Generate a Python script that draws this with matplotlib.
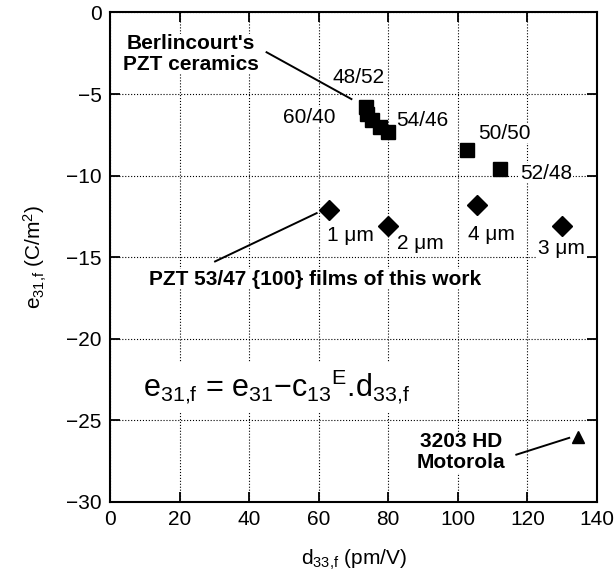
import numpy as np
import matplotlib.pyplot as plt

plt.rcParams['font.family'] = ['Liberation Sans', 'DejaVu Sans']
plt.rcParams['mathtext.fontset'] = 'custom'
plt.rcParams['mathtext.rm'] = 'Liberation Sans'
plt.rcParams['mathtext.it'] = 'Liberation Sans'
plt.rcParams['font.size'] = 15

# Berlincourt's PZT ceramics
ceram_d33 = [73.5, 74.0, 75.3, 77.7, 80.0, 102.5, 112.0]
ceram_e31 = [-5.8, -6.2, -6.6, -7.0, -7.35, -8.4, -9.6]
ceram_labels = ['48/52', '60/40', '54/46', '50/50', '52/48']
ceram_label_xy = [(71.4, -4.0), (57.3, -6.43), (89.8, -6.65), (113.4, -7.39), (125.3, -9.86)]

# PZT 53/47 {100} films
film_d33 = [62.9, 80.0, 105.5, 129.9]
film_e31 = [-12.1, -13.1, -11.8, -13.1]
film_labels = ['1 μm', '2 μm', '4 μm', '3 μm']
film_label_xy = [(69.0, -13.7), (89.1, -14.14), (109.7, -13.6), (129.8, -14.47)]

# 3203 HD Motorola
moto_d33 = [134.5]
moto_e31 = [-26.0]

fig = plt.figure(figsize=(6.16, 5.78), dpi=100)
ax = fig.add_axes([0.1786, 0.1315, 0.7906, 0.847])

ax.plot(ceram_d33, ceram_e31, 's', color='black', ms=10, zorder=5)
ax.plot(film_d33, film_e31, 'D', color='black', ms=10, zorder=5)
ax.plot(moto_d33, moto_e31, '^', color='black', ms=9, zorder=5)

box = dict(facecolor='white', edgecolor='none', pad=0.5)
for lab, (x, y) in zip(ceram_labels, ceram_label_xy):
    ax.text(x, y, lab, ha='center', va='center', bbox=box, zorder=4)
for lab, (x, y) in zip(film_labels, film_label_xy):
    ax.text(x, y, lab, ha='center', va='center', bbox=box, zorder=4)

# callouts
ax.text(23.2, -2.55, "Berlincourt's\nPZT ceramics", ha='center', va='center',
        fontweight='bold', linespacing=1.1, bbox=box, zorder=4)
ax.plot([45.0, 69.4], [-2.44, -5.31], color='black', lw=1.4, zorder=4)

ax.text(11.3, -16.35, 'PZT 53/47 {100} films of this work', ha='left', va='center',
        fontweight='bold', bbox=box, zorder=4)
ax.plot([30.2, 59.4], [-15.26, -12.3], color='black', lw=1.4, zorder=4)

ax.text(113.7, -26.95, '3203 HD\nMotorola', ha='right', va='center',
        fontweight='bold', linespacing=1.1, multialignment='center', bbox=box, zorder=4)
ax.plot([116.8, 132.0], [-27.1, -26.07], color='black', lw=1.4, zorder=4)

ax.text(9.6, -23.55, r'e$_{31{,}f}$ = e$_{31}$$-$c$_{13}{}^{E}$.d$_{33{,}f}$', ha='left',
        va='baseline', fontsize=22, bbox=dict(facecolor='white', edgecolor='none', pad=4),
        zorder=4)

ax.set_xlim(0, 140)
ax.set_ylim(-30, 0)
ax.set_xticks(np.arange(0, 141, 20))
ax.set_yticks(np.arange(-30, 1, 5))
ax.grid(True, linestyle=':', color='black', lw=0.8)
ax.tick_params(direction='in', length=7, width=1.3, top=True, right=True, pad=6)
for s in ax.spines.values():
    s.set_linewidth(1.5)

ax.set_xlabel(r'd$_{33{,}f}$ (pm/V)', fontsize=15, labelpad=13)
ax.set_ylabel(r'e$_{31{,}f}$ (C/m$^2$)', fontsize=15, labelpad=12)

fig.savefig('out.png', dpi=100)
